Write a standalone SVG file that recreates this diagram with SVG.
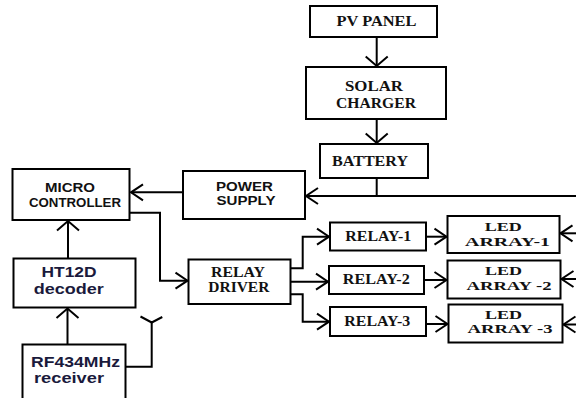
<svg xmlns="http://www.w3.org/2000/svg" width="576" height="398" viewBox="0 0 576 398">
<style>
  .box { fill: #fff; stroke: #000; stroke-width: 2; }
  .ln { fill: none; stroke: #000; stroke-width: 2; }
  .ser { font-family: "Liberation Serif", "Times New Roman", serif; font-weight: bold; font-size: 14.5px; fill: #111; text-anchor: middle; }
  .led { font-family: "Liberation Serif", "Times New Roman", serif; font-weight: bold; font-size: 13.5px; fill: #111; text-anchor: middle; }
  .san { font-family: "Liberation Sans", Arial, sans-serif; font-weight: bold; font-size: 13.5px; fill: #111; text-anchor: middle; }
  .cal { font-family: "Liberation Sans", Arial, sans-serif; font-weight: bold; font-size: 14px; fill: #1a1a3c; text-anchor: middle; }
</style>
<defs>
  <marker id="ah" markerUnits="userSpaceOnUse" markerWidth="20" markerHeight="20" viewBox="-14 -10 16 20" refX="0" refY="0" orient="auto" overflow="visible">
    <path d="M-12,-8 L0,0 L-12,8" fill="none" stroke="#000" stroke-width="2"/>
  </marker>
  <marker id="av" markerUnits="userSpaceOnUse" markerWidth="20" markerHeight="26" viewBox="-11 -13 13 26" refX="0" refY="0" orient="auto" overflow="visible">
    <path d="M-9.5,-11 L0,0 L-9.5,11" fill="none" stroke="#000" stroke-width="2"/>
  </marker>
</defs>
<rect width="576" height="398" fill="#fff"/>

<g id="connectors">
  <path class="ln" d="M376.7,37 V66" marker-end="url(#av)"/>
  <path class="ln" d="M376.7,119 V143" marker-end="url(#av)"/>
  <path class="ln" d="M376.7,178 V196"/>
  <path class="ln" d="M576,196 H306" marker-end="url(#ah)"/>
  <path class="ln" d="M183,192.3 H131" marker-end="url(#ah)"/>
  <path class="ln" d="M130,212.7 H160 V280.7 H187.5" marker-end="url(#ah)"/>
  <path class="ln" d="M68,258.5 V221" marker-end="url(#av)"/>
  <path class="ln" d="M67.5,344.5 V308.5" marker-end="url(#av)"/>
  <path class="ln" d="M125.5,366.7 H151.7 V321.7"/>
  <path class="ln" d="M140.5,316.5 L151.7,322.5 L162.3,317"/>
  <path class="ln" d="M290.5,268.3 H302.7 V236.7 H329" marker-end="url(#ah)"/>
  <path class="ln" d="M290.5,281.7 H328" marker-end="url(#ah)"/>
  <path class="ln" d="M290.5,294.3 H302.7 V321.7 H329" marker-end="url(#ah)"/>
  <path class="ln" d="M426,236.7 H446.5" marker-end="url(#ah)"/>
  <path class="ln" d="M424,280 H446.5" marker-end="url(#ah)"/>
  <path class="ln" d="M426,324 H447.5" marker-end="url(#ah)"/>
  <path class="ln" d="M577,233.3 H560.5" marker-end="url(#ah)"/>
  <path class="ln" d="M577,279 H561.5" marker-end="url(#ah)"/>
  <path class="ln" d="M577,324.5 H563.5" marker-end="url(#ah)"/>
</g>

<g id="pv-panel">
  <rect class="box" x="310" y="6" width="127" height="31"/>
  <text class="ser" x="376.5" y="26" textLength="80" lengthAdjust="spacingAndGlyphs">PV PANEL</text>
</g>
<g id="solar-charger">
  <rect class="box" x="306" y="67" width="140" height="52"/>
  <text class="ser" x="374" y="90.5" textLength="58" lengthAdjust="spacingAndGlyphs">SOLAR</text>
  <text class="ser" x="376" y="108" textLength="80" lengthAdjust="spacingAndGlyphs">CHARGER</text>
</g>
<g id="battery">
  <rect class="box" x="320" y="144" width="108" height="34"/>
  <text class="ser" x="370" y="166" textLength="76" lengthAdjust="spacingAndGlyphs">BATTERY</text>
</g>
<g id="micro-controller">
  <rect class="box" x="12.5" y="169" width="117" height="51"/>
  <text class="san" x="70" y="191.5" textLength="50" lengthAdjust="spacingAndGlyphs">MICRO</text>
  <text class="san" x="75" y="207" textLength="92" lengthAdjust="spacingAndGlyphs">CONTROLLER</text>
</g>
<g id="power-supply">
  <rect class="box" x="183" y="171" width="122" height="48"/>
  <text class="san" x="244.5" y="191" textLength="57" lengthAdjust="spacingAndGlyphs">POWER</text>
  <text class="san" x="246" y="205" textLength="59" lengthAdjust="spacingAndGlyphs">SUPPLY</text>
</g>
<g id="ht12d-decoder">
  <rect class="box" x="13.5" y="258.5" width="122" height="49"/>
  <text class="cal" x="69" y="277" textLength="55" lengthAdjust="spacingAndGlyphs">HT12D</text>
  <text class="cal" x="68.7" y="294" textLength="70" lengthAdjust="spacingAndGlyphs">decoder</text>
</g>
<g id="rf-receiver">
  <rect class="box" x="22.5" y="344.5" width="103" height="60"/>
  <text class="cal" x="75.5" y="366.5" textLength="89" lengthAdjust="spacingAndGlyphs">RF434MHz</text>
  <text class="cal" x="69" y="382.5" textLength="70" lengthAdjust="spacingAndGlyphs">receiver</text>
</g>
<g id="relay-driver">
  <rect class="box" x="188.5" y="259.5" width="102" height="44.5"/>
  <text class="ser" x="238" y="276.7" textLength="54" lengthAdjust="spacingAndGlyphs">RELAY</text>
  <text class="ser" x="238.8" y="292.3" textLength="61" lengthAdjust="spacingAndGlyphs">DRIVER</text>
</g>
<g id="relay-1">
  <rect class="box" x="330" y="222.5" width="96" height="28"/>
  <text class="ser" x="378.3" y="240.5" textLength="66" lengthAdjust="spacingAndGlyphs">RELAY-1</text>
</g>
<g id="relay-2">
  <rect class="box" x="329" y="266" width="95" height="28"/>
  <text class="ser" x="376.3" y="283.5" textLength="67" lengthAdjust="spacingAndGlyphs">RELAY-2</text>
</g>
<g id="relay-3">
  <rect class="box" x="330" y="307" width="96" height="29"/>
  <text class="ser" x="377.3" y="326" textLength="66" lengthAdjust="spacingAndGlyphs">RELAY-3</text>
</g>
<g id="led-array-1">
  <rect class="box" x="447.5" y="216" width="112" height="37"/>
  <text class="led" x="503.3" y="230.5" textLength="37" lengthAdjust="spacingAndGlyphs">LED</text>
  <text class="led" x="507.5" y="245.5" textLength="85" lengthAdjust="spacingAndGlyphs">ARRAY-1</text>
</g>
<g id="led-array-2">
  <rect class="box" x="447.5" y="260.5" width="113" height="38"/>
  <text class="led" x="503.5" y="275" textLength="37" lengthAdjust="spacingAndGlyphs">LED</text>
  <text class="led" x="509" y="290" textLength="85" lengthAdjust="spacingAndGlyphs">ARRAY -2</text>
</g>
<g id="led-array-3">
  <rect class="box" x="448.5" y="304.5" width="114" height="38"/>
  <text class="led" x="503.5" y="318.5" textLength="37" lengthAdjust="spacingAndGlyphs">LED</text>
  <text class="led" x="510" y="332.5" textLength="85" lengthAdjust="spacingAndGlyphs">ARRAY -3</text>
</g>
</svg>
